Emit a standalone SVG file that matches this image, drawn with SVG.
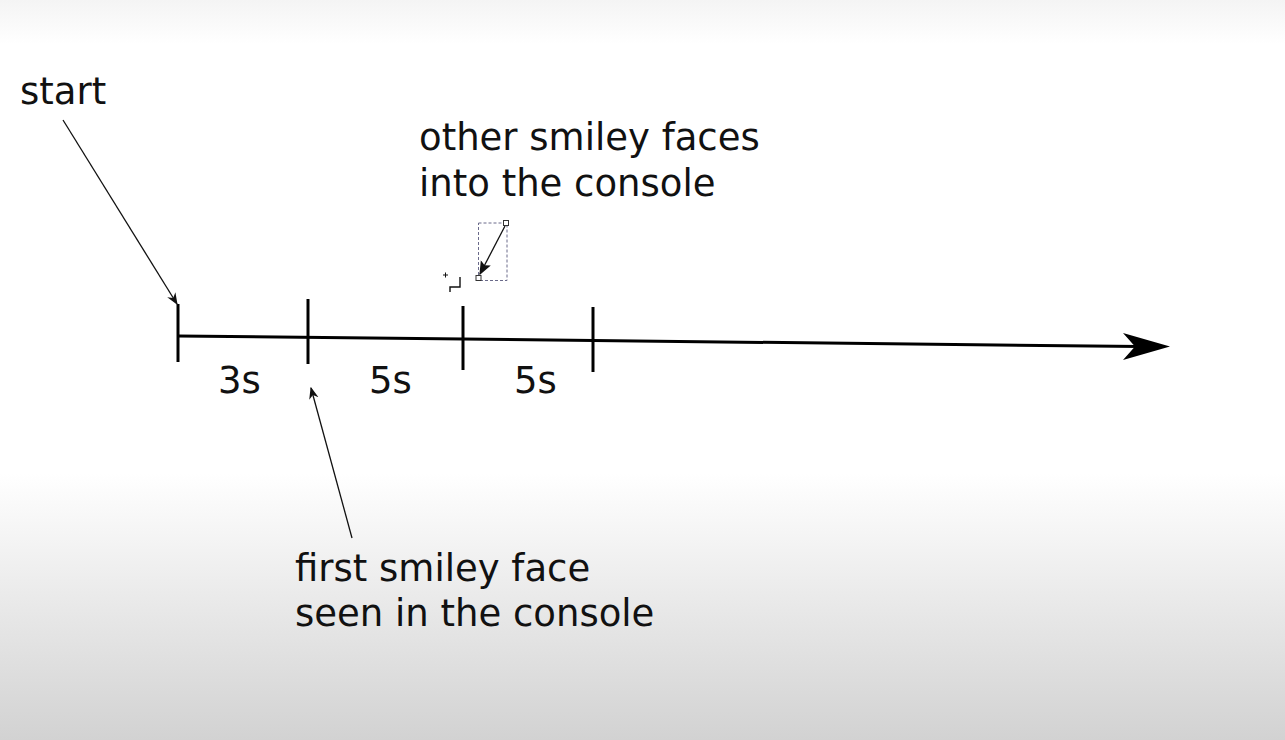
<svg xmlns="http://www.w3.org/2000/svg" width="1285" height="740" viewBox="0 0 1285 740">
<style>
.t{font-family:"DejaVu Sans","Verdana",sans-serif;font-size:37px;fill:#111}
.axis{stroke:#000;stroke-width:3;fill:none}
.thin{stroke:#111;stroke-width:1.3;fill:none}
</style>
<defs>
<linearGradient id="bg" x1="0" y1="0" x2="0" y2="1">
<stop offset="0" stop-color="#f4f4f4"/>
<stop offset="0.06" stop-color="#ffffff"/>
<stop offset="0.64" stop-color="#ffffff"/>
<stop offset="1" stop-color="#d2d2d2"/>
</linearGradient>
<marker id="ah" viewBox="0 0 10 10" refX="9" refY="5" markerWidth="12" markerHeight="12" markerUnits="userSpaceOnUse" orient="auto">
<path d="M0,1 L10,5 L0,9 L3,5 Z" fill="#111"/>
</marker>
<marker id="ahs" viewBox="0 0 10 10" refX="9" refY="5" markerWidth="14" markerHeight="14" markerUnits="userSpaceOnUse" orient="auto">
<path d="M0,1 L10,5 L0,9 L2,5 Z" fill="#111"/>
</marker>
</defs>
<rect width="1285" height="740" fill="url(#bg)"/>

<g id="timeline">
<line class="axis" x1="178" y1="336" x2="1140" y2="346.5"/>
<path d="M1170,346.5 L1123,333 L1135,346.5 L1123,360 Z" fill="#000"/>
</g>
<g id="tick0"><line class="axis" x1="178" y1="304" x2="178" y2="362"/></g>
<g id="tick1"><line class="axis" x1="308" y1="299" x2="308" y2="364"/></g>
<g id="tick2"><line class="axis" x1="463" y1="306" x2="463" y2="370"/></g>
<g id="tick3"><line class="axis" x1="593" y1="307" x2="593" y2="372"/></g>

<g id="labels">
<text class="t" x="218" y="393">3s</text>
<text class="t" x="369" y="393">5s</text>
<text class="t" x="514" y="393">5s</text>
</g>

<g id="start">
<text class="t" x="20" y="104">start</text>
</g>
<g id="first">
<text class="t" x="295" y="581">first smiley face</text>
<text class="t" x="295" y="626">seen in the console</text>
</g>
<g id="other">
<text class="t" x="419" y="150">other smiley faces</text>
<text class="t" x="419" y="196">into the console</text>
</g>

<g id="connectors">
<line class="thin" x1="63" y1="120" x2="177" y2="304" marker-end="url(#ah)"/>
<line class="thin" x1="352" y1="538" x2="311" y2="388" marker-end="url(#ah)"/>
</g>

<g id="selection">
<rect x="478.5" y="223" width="28.5" height="57.5" fill="none" stroke="#6a6a8a" stroke-width="1" stroke-dasharray="3,2"/>
<rect x="503.5" y="220.5" width="5" height="5" fill="#fff" stroke="#333" stroke-width="1"/>
<rect x="476" y="275.5" width="5" height="5" fill="#fff" stroke="#333" stroke-width="1"/>
<line class="thin" x1="505" y1="226" x2="480" y2="274" stroke-width="1.6" marker-end="url(#ahs)"/>
<path d="M443,275 h5 M445.5,272.5 v5" stroke="#111" stroke-width="1" fill="none"/>
<path d="M460,277 v10 h-10 v5" stroke="#111" stroke-width="1.4" fill="none"/>
</g>
</svg>
